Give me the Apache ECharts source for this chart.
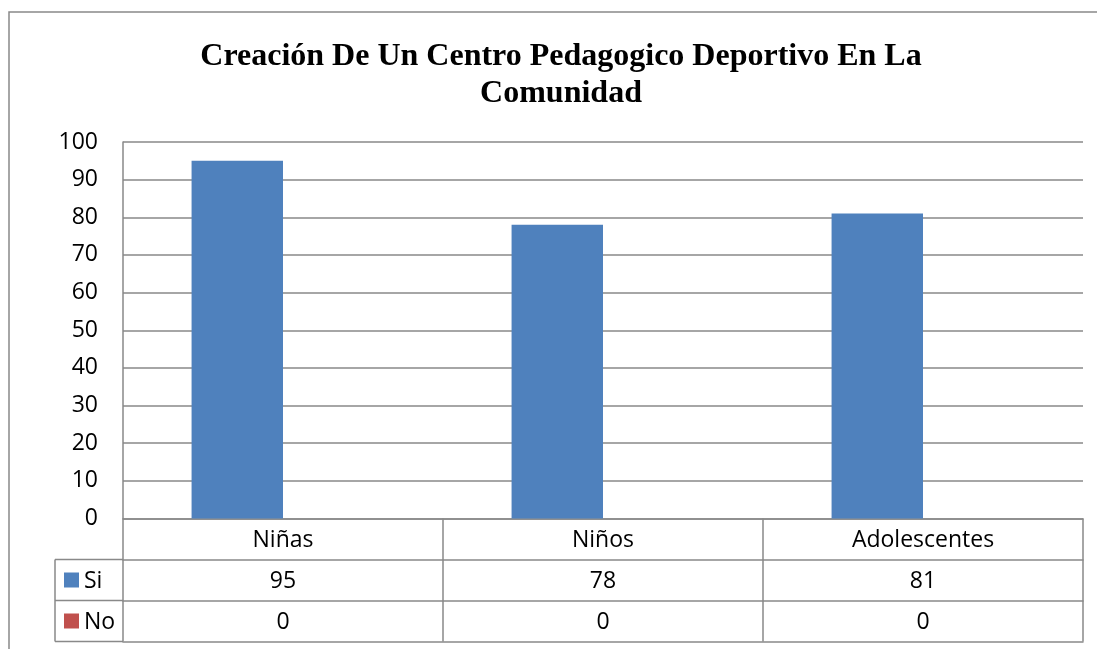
<!DOCTYPE html>
<html><head><meta charset="utf-8">
<script src="https://cdn.jsdelivr.net/npm/echarts@6/dist/echarts.min.js"></script>
<style>html,body{margin:0;padding:0;background:#fff}#c{width:1097px;height:649px}</style>
</head><body><div id="c"></div>
<script>
const titleText = 'Creación De Un Centro Pedagogico Deportivo En La\nComunidad';
const categories = ['Niñas', 'Niños', 'Adolescentes'];
const seriesNames = ['Si', 'No'];
const siValues = [95, 78, 81];
const noValues = [0, 0, 0];
const yTicks = { min: 0, max: 100, interval: 10 };

const colors = ['#4f81bd', '#c0504d'];
const lineColor = '#898989';
const font = 'Open Sans';
const fs = 23;

const chart = echarts.init(document.getElementById('c'), null, { renderer: 'canvas' });

const G = { left: 123, right: 14, top: 142, bottom: 130.5 };
const rowH = 41;
const tableLeft = 55;
const axisY = 649 - G.bottom;

function tableAxis(offset, data, show) {
  return {
    type: 'category', data: data, position: 'bottom', offset: offset,
    axisLine: { show: true, lineStyle: { color: lineColor, width: 1.5 } },
    axisTick: { show: true, length: rowH, interval: 0, lineStyle: { color: lineColor, width: 1.5 } },
    axisLabel: { show: show, interval: 0, margin: 10, color: '#000', fontFamily: font, fontSize: fs },
    splitLine: { show: false }
  };
}

const allSeries = [siValues, noValues];

chart.setOption({
  animation: false,
  title: {
    text: titleText, left: 556, top: 33, textAlign: 'center',
    textStyle: { fontFamily: 'Liberation Serif', fontWeight: 'bold', fontSize: 32, lineHeight: 37, color: '#000' }
  },
  grid: G,
  xAxis: [
    tableAxis(0, categories, true),
    tableAxis(rowH, siValues.map(String), true),
    tableAxis(rowH * 2, noValues.map(String), true),
    Object.assign(tableAxis(rowH * 3, categories, false), { axisTick: { show: false } })
  ],
  yAxis: {
    type: 'value', min: yTicks.min, max: yTicks.max, interval: yTicks.interval,
    axisLine: { show: true, lineStyle: { color: lineColor, width: 1.5 } },
    axisTick: { show: false },
    axisLabel: { margin: 25, color: '#000', fontFamily: font, fontSize: fs, padding: [3, 0, 0, 0] },
    splitLine: { show: true, lineStyle: { color: lineColor, width: 1.5 } }
  },
  series: seriesNames.map((n, i) => ({
    name: n, type: 'bar', data: allSeries[i], xAxisIndex: 0,
    barGap: '0%', barCategoryGap: '42.857%',
    itemStyle: { color: colors[i] }
  })),
  graphic: [
    { type: 'rect', shape: { x: 9, y: 12, width: 1200, height: 800 }, style: { fill: 'none', stroke: lineColor, lineWidth: 1.5 }, silent: true },
    { type: 'line', shape: { x1: tableLeft, y1: axisY + rowH, x2: G.left, y2: axisY + rowH }, style: { stroke: lineColor, lineWidth: 1.5 } },
    { type: 'line', shape: { x1: tableLeft, y1: axisY + rowH * 2, x2: G.left, y2: axisY + rowH * 2 }, style: { stroke: lineColor, lineWidth: 1.5 } },
    { type: 'line', shape: { x1: tableLeft, y1: axisY + rowH * 3, x2: G.left, y2: axisY + rowH * 3 }, style: { stroke: lineColor, lineWidth: 1.5 } },
    { type: 'line', shape: { x1: tableLeft, y1: axisY + rowH, x2: tableLeft, y2: axisY + rowH * 3 }, style: { stroke: lineColor, lineWidth: 1.5 } }
  ].concat(seriesNames.flatMap((n, i) => [
    { type: 'rect', shape: { x: 64, y: axisY + rowH * (i + 1) + 13, width: 15, height: 15 }, style: { fill: colors[i] } },
    { type: 'text', x: 84, y: axisY + rowH * (i + 1) + rowH / 2 + 1, style: { text: n, fontFamily: font, fontSize: fs, fill: '#000', verticalAlign: 'middle' } }
  ]))
});
</script>
</body></html>
